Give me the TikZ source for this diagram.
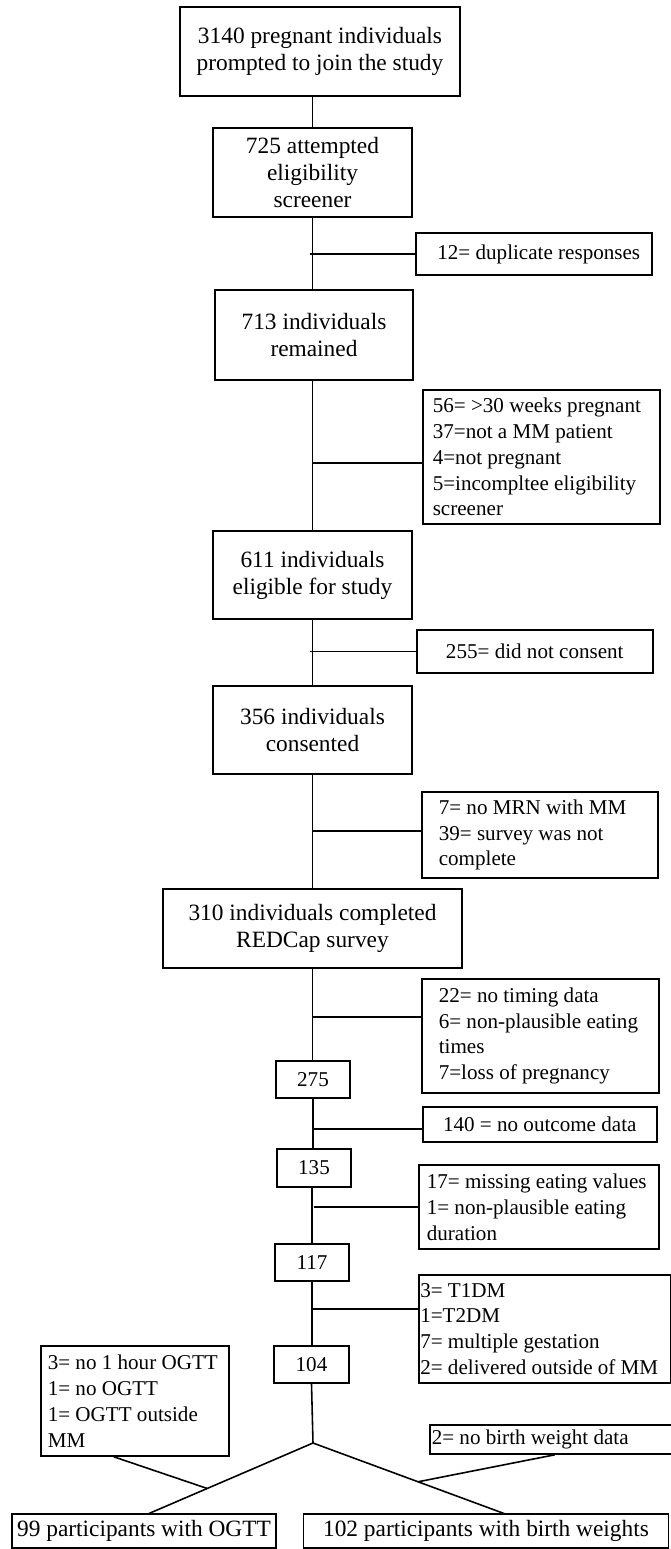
\documentclass[tikz,border=0pt]{standalone}
\usepackage{fontspec}
\setmainfont{Liberation Serif}
\usepackage{tikz}
\usetikzlibrary{calc,positioning}

\newcommand{\bigtxt}{\fontsize{13.3pt}{15.4pt}\selectfont}
\newcommand{\sidetxt}{\fontsize{12pt}{14.7pt}\selectfont}
\newcommand{\padl}[1]{\leftskip=#1\relax}

\tikzset{
	mainbox/.style={draw,line width=0.9pt,align=center,font=\bigtxt,inner sep=1pt},
	numbox/.style={draw,line width=0.6pt,align=center,font=\sidetxt,inner sep=1pt,minimum width=1.48cm,minimum height=0.74cm},
	dropc/.style={draw,line width=0.9pt,align=center,font=\sidetxt,inner sep=1pt,anchor=west},
	drop/.style={draw,line width=0.9pt,align=flush left,font=\sidetxt,inner xsep=0pt,inner ysep=1pt,anchor=west},
	link/.style={line width=0.9pt}
}

\begin{document}
\begin{tikzpicture}[x=0.02cm,y=-0.02cm]
	\useasboundingbox (0,0) rectangle (671,1549);

	\node(n3140) [mainbox,minimum width=5.6cm,minimum height=1.78cm] at (320,51.5) {3140 pregnant individuals\\prompted to join the study};
	\node(n725) [mainbox,minimum width=3.98cm,minimum height=1.78cm] at (312.5,172.5) {725 attempted\\eligibility\\screener};
	\node(n713) [mainbox,minimum width=3.96cm,minimum height=1.8cm] at (314,335) {713 individuals\\remained};
	\node(n611) [mainbox,minimum width=3.98cm,minimum height=1.76cm] at (312.5,575) {611 individuals\\eligible for study};
	\node(n356) [mainbox,minimum width=3.98cm,minimum height=1.76cm] at (312.5,730) {356 individuals\\consented};
	\node(n310) [mainbox,minimum width=5.98cm,minimum height=1.58cm] at (312.5,928.5) {310 individuals completed\\REDCap survey};
	\node(n275) [numbox] at (313,1079.5) {275};
	\node(n135) [numbox,minimum height=0.76cm] at (314,1168) {135};
	\node(n117) [numbox] at (312,1262.5) {117};
	\node(n104) [numbox,minimum width=1.5cm] at (311.5,1364.5) {104};
	\node(n99) [mainbox,line width=0.6pt,minimum width=5.28cm,minimum height=0.68cm] at (144,1531) {99 participants with OGTT};
	\node(n102) [mainbox,line width=0.6pt,minimum width=7.32cm,minimum height=0.68cm] at (486,1531) {102 participants with birth weights};

	\node(x12) [dropc,minimum width=4.72cm,minimum height=0.84cm] at (415,254) {\hspace{0.2cm}12= duplicate responses};
	\node(x56) [drop,text width=4.74cm,minimum height=2.68cm] at (422,457) {\padl{0.2cm}56= >30 weeks pregnant\\37=not a MM patient\\4=not pregnant\\5=incompltee eligibility\\screener\par};
	\node(x255) [dropc,minimum width=4.72cm,minimum height=0.86cm] at (416,651.5) {255= did not consent};
	\node(x7) [drop,text width=4.72cm,minimum height=1.72cm] at (421,835) {\padl{0.34cm}7= no MRN with MM\\39= survey was not\\complete\par};
	\node(x22) [drop,text width=4.74cm,minimum height=2.28cm] at (421,1036) {\padl{0.34cm}22= no timing data\\6= non-plausible eating\\times\\7=loss of pregnancy\par};
	\node(x140) [dropc,minimum width=4.68cm,minimum height=0.7cm] at (422,1124.5) {140 = no outcome data};
	\node(x17) [drop,text width=4.8cm,minimum height=1.68cm] at (418,1207) {\padl{0.16cm}17= missing eating values\\1= non-plausible eating\\duration\par};
	\node(xT1) [drop,text width=5.04cm,minimum height=2.16cm] at (418,1329) {\padl{0.03cm}3= T1DM\\1=T2DM\\7= multiple gestation\\2= delivered outside of MM\par};
	\node(xOGTT) [drop,text width=3.76cm,minimum height=2.2cm] at (40,1401) {\padl{0.14cm}3= no 1 hour OGTT\\1= no OGTT\\1= OGTT outside\\MM\par};
	\node(xBW) [drop,text width=4.9cm,minimum height=0.58cm] at (429,1439.5) {\padl{0.04cm}2= no birth weight data\par};

	\draw[link] (n725.north |- n3140.south) -- (n725.north);
	\draw[link] (n725.south) -- (n725.south |- n713.north);
	\draw[link] (n713.south -| n611.north) -- (n611.north);
	\draw[link] (n611.south) -- (n611.south |- n356.north);
	\draw[link] (n356.south) -- (n356.south |- n310.north);
	\draw[link] (n310.south) -- (n310.south |- n275.north);
	\draw[link] (n275.south) -- (n275.south |- n135.north);
	\draw[link] (n135.south -| n117.north) -- (n117.north);
	\draw[link] (n117.south) -- (n117.south |- n104.north);

	\coordinate (j56) at (313,463);
	\coordinate (j7) at (313,831);
	\coordinate (j22) at (313,1017);
	\coordinate (j140) at (313,1129);
	\coordinate (jT1) at (313,1309);
	\draw[link] ($(n725.south |- x12.west)+(-3,0)$) -- (x12.west);
	\draw[link] (j56) -- (j56 -| x56.west);
	\draw[link] ($(n611.south |- x255.west)+(-3,0)$) -- (x255.west);
	\draw[link] (j7) -- (j7 -| x7.west);
	\draw[link] (j22) -- (j22 -| x22.west);
	\draw[link] (j140) -- (j140 -| x140.west);
	\draw[link] (n135.south |- x17.west) -- (x17.west);
	\draw[link] (jT1) -- (jT1 -| xT1.west);

	\coordinate (split) at (313,1443);
	\coordinate (e99) at ($(n99.north)+(5,0)$);
	\coordinate (e102) at ($(n102.north)+(18,0)$);
	\draw[link] (n104.south) -- (split);
	\draw[link] (split) -- (e99);
	\draw[link] (split) -- (e102);
	\draw[link] ($(xOGTT.south)+(-21,0)$) -- ($(split)!0.645!(e99)$);
	\draw[link] ($(xBW.south)+(2.5,0)$) -- ($(split)!0.55!(e102)$);
\end{tikzpicture}
\end{document}
